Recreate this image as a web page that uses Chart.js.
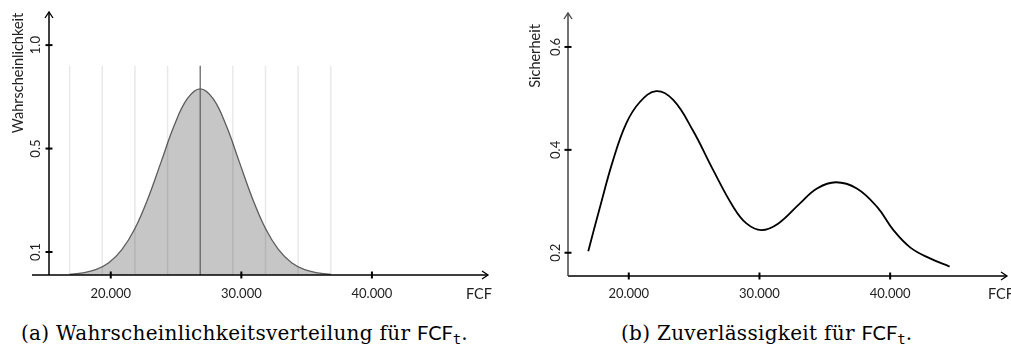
<!DOCTYPE html>
<html>
<head>
<meta charset="utf-8">
<script src="https://cdn.jsdelivr.net/npm/chart.js@4"></script>
<style>
  html, body { margin: 0; padding: 0; background: #fff; }
  body { width: 1011px; height: 349px; position: relative; overflow: hidden; }
  .box { position: absolute; top: 0; height: 305px; }
  #boxA { left: 0; width: 505px; }
  #boxB { left: 505px; width: 506px; }
  .cap { position: absolute; top: 320px; font: 20px "DejaVu Serif", serif; letter-spacing: 0.3px; line-height: 24px; white-space: nowrap; color: #000; }
  .cap .sf { font-family: Lato, sans-serif; letter-spacing: 0; }
  .cap sub { font-family: "DejaVu Sans Mono", monospace; font-size: 14px; vertical-align: -4px; line-height: 0; letter-spacing: 0; }
</style>
</head>
<body>
<div class="box" id="boxA"><canvas id="chartA"></canvas></div>
<div class="box" id="boxB"><canvas id="chartB"></canvas></div>
<div class="cap" style="left:21px">(a) Wahrscheinlichkeitsverteilung für <span class="sf">FCF</span><sub>t</sub>.</div>
<div class="cap" style="left:621px">(b) Zuverlässigkeit für <span class="sf">FCF</span><sub>t</sub>.</div>

<script>
// (a) probability distribution
const fcfA = [16850, 17850, 18850, 19850, 20850, 21850, 22850, 23850, 24850, 25850, 26850,
              27850, 28850, 29850, 30850, 31850, 32850, 33850, 34850, 35850, 36850];
const probA = [0.003, 0.009, 0.023, 0.053, 0.110, 0.202, 0.333, 0.491, 0.649, 0.766, 0.810,
               0.766, 0.649, 0.491, 0.333, 0.202, 0.110, 0.053, 0.023, 0.009, 0.003];
const gridA = [16850, 19350, 21850, 24350, 29350, 31850, 34350, 36850];
const meanA = 26850;

// (b) reliability
const fcfB = [16900, 17800, 18800, 19800, 20850, 22100, 23400, 24900, 26450, 28000, 29000,
              30150, 31450, 33100, 34400, 35850, 37450, 39000, 40250, 41550, 43050, 44550];
const sicherB = [0.203, 0.289, 0.380, 0.451, 0.493, 0.514, 0.497, 0.438, 0.361, 0.289, 0.257,
                 0.244, 0.257, 0.296, 0.325, 0.337, 0.325, 0.289, 0.244, 0.210, 0.189, 0.173];

// ticks
const xTicks = [20000, 30000, 40000];
const yTicksA = [0.1, 0.55, 1.0];
const yLabelsA = ['0.1', '0.5', '1.0'];
const yTicksB = [0.2, 0.4, 0.6];
const yLabelsB = ['0.2', '0.4', '0.6'];

const GRID_TOP = 0.91;

function fmt(v) {
  return String(v).replace(/\B(?=(\d{3})+(?!\d))/g, '.');
}

function rotText(ctx, text, x, y) {
  ctx.save();
  ctx.translate(x, y);
  ctx.rotate(-Math.PI / 2);
  ctx.fillText(text, 0, 0);
  ctx.restore();
}

// axes with arrows, crossing ticks and labels
const arrowAxes = {
  id: 'arrowAxes',
  afterDatasetsDraw(chart, args, o) {
    const { ctx, chartArea: a, scales: { x, y } } = chart;
    ctx.save();

    // x axis
    ctx.strokeStyle = '#000';
    ctx.lineWidth = 1.5;
    ctx.beginPath();
    ctx.moveTo(a.left - o.xLeftExt, a.bottom);
    ctx.lineTo(a.right, a.bottom);
    ctx.stroke();
    ctx.lineWidth = 1.3;
    ctx.beginPath();
    ctx.moveTo(a.right - 6, a.bottom - 4);
    ctx.lineTo(a.right, a.bottom);
    ctx.lineTo(a.right - 6, a.bottom + 4);
    ctx.stroke();

    // y axis
    ctx.strokeStyle = o.yColor;
    ctx.lineWidth = 1.5;
    ctx.beginPath();
    ctx.moveTo(a.left, a.bottom);
    ctx.lineTo(a.left, a.top);
    ctx.stroke();
    ctx.lineWidth = 1.3;
    ctx.beginPath();
    ctx.moveTo(a.left - 4, a.top + 6);
    ctx.lineTo(a.left, a.top);
    ctx.lineTo(a.left + 4, a.top + 6);
    ctx.stroke();

    // tick marks
    ctx.strokeStyle = '#000';
    ctx.lineWidth = 2;
    o.xTicks.forEach(v => {
      const px = x.getPixelForValue(v);
      ctx.beginPath();
      ctx.moveTo(px, a.bottom - 3.5);
      ctx.lineTo(px, a.bottom + 3.5);
      ctx.stroke();
    });
    o.yTicks.forEach(v => {
      const py = y.getPixelForValue(v);
      ctx.beginPath();
      ctx.moveTo(a.left - 3.5, py);
      ctx.lineTo(a.left + 3.5, py);
      ctx.stroke();
    });

    // labels
    ctx.fillStyle = '#222';
    ctx.font = '13px Lato, "Open Sans", sans-serif';
    ctx.textAlign = 'center';
    ctx.textBaseline = 'alphabetic';
    o.xTicks.forEach(v => ctx.fillText(fmt(v), x.getPixelForValue(v), 298));
    o.yTicks.forEach((v, i) => rotText(ctx, o.yLabels[i], o.yLabelX, y.getPixelForValue(v)));

    ctx.font = '14.5px Lato, "Open Sans", sans-serif';
    rotText(ctx, o.yTitle, o.yTitleX, o.yTitleY);
    ctx.textAlign = o.fcfAlign;
    ctx.fillText('FCF', o.fcfX, 299);
    ctx.restore();
  }
};

const common = {
  animation: false,
  responsive: true,
  maintainAspectRatio: false,
  plugins: { legend: { display: false }, tooltip: { enabled: false } },
  elements: { point: { radius: 0 } }
};

function draw() {
  // chart (a)
  const dsA = [{
    data: fcfA.map((v, i) => ({ x: v, y: probA[i] })),
    borderColor: '#5c5c5c',
    borderWidth: 1.3,
    backgroundColor: '#c6c6c6',
    fill: 'origin',
    tension: 0.4,
    order: 2
  }];
  gridA.forEach(g => dsA.push({
    data: [{ x: g, y: 0 }, { x: g, y: GRID_TOP }],
    borderColor: 'rgba(0,0,0,0.09)',
    borderWidth: 1.5,
    fill: false,
    order: 1
  }));
  dsA.push({
    data: [{ x: meanA, y: 0 }, { x: meanA, y: GRID_TOP }],
    borderColor: '#5c5c5c',
    borderWidth: 1.2,
    fill: false,
    order: 0
  });

  new Chart(document.getElementById('chartA'), {
    type: 'line',
    data: { datasets: dsA },
    options: {
      ...common,
      layout: { padding: { left: 49, right: 17, top: 12, bottom: 30 } },
      scales: {
        x: { type: 'linear', display: false, min: 15270, max: 48890 },
        y: { type: 'linear', display: false, min: 0, max: 1.144 }
      },
      plugins: {
        ...common.plugins,
        arrowAxes: {
          xLeftExt: 17, yColor: '#000',
          xTicks: xTicks, yTicks: yTicksA, yLabels: yLabelsA,
          yLabelX: 40, yTitle: 'Wahrscheinlichkeit', yTitleX: 23, yTitleY: 73,
          fcfX: 492, fcfAlign: 'right'
        }
      }
    },
    plugins: [arrowAxes]
  });

  // chart (b)
  new Chart(document.getElementById('chartB'), {
    type: 'line',
    data: {
      datasets: [{
        data: fcfB.map((v, i) => ({ x: v, y: sicherB[i] })),
        borderColor: '#000',
        borderWidth: 1.8,
        fill: false,
        tension: 0.4
      }]
    },
    options: {
      ...common,
      layout: { padding: { left: 63, right: 4, top: 13, bottom: 29 } },
      scales: {
        x: { type: 'linear', display: false, min: 15350, max: 48940 },
        y: { type: 'linear', display: false, min: 0.1548, max: 0.666 }
      },
      plugins: {
        ...common.plugins,
        arrowAxes: {
          xLeftExt: 0, yColor: '#444',
          xTicks: xTicks, yTicks: yTicksB, yLabels: yLabelsB,
          yLabelX: 54.5, yTitle: 'Sicherheit', yTitleX: 35, yTitleY: 56,
          fcfX: 483, fcfAlign: 'left'
        }
      }
    },
    plugins: [arrowAxes]
  });
}

Promise.all([
  document.fonts.load('13px Lato'),
  document.fonts.load('20px "DejaVu Serif"')
]).then(draw, draw);
</script>
</body>
</html>
